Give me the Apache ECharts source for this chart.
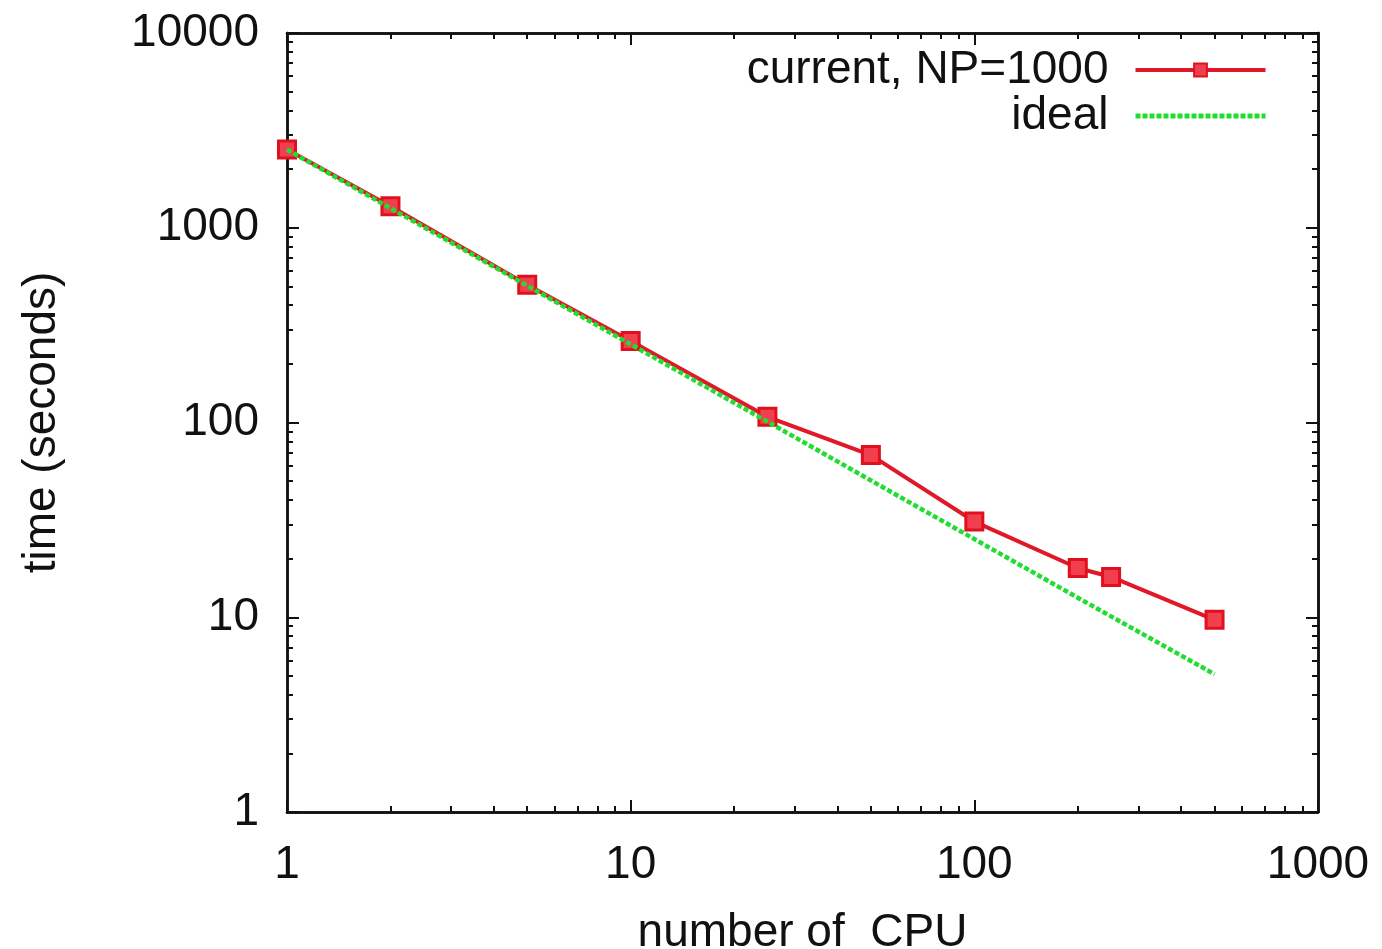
<!DOCTYPE html>
<html>
<head>
<meta charset="utf-8">
<script src="https://cdn.jsdelivr.net/npm/echarts@6/dist/echarts.min.js"></script>
<style>html,body{margin:0;padding:0;background:#fff}#c{width:1382px;height:949px}</style>
</head>
<body>
<div id="c"></div>
<script>
const cpus = [1, 2, 5, 10, 25, 50, 100, 200, 250, 500];
const timeCurrent = [2520, 1290, 510, 262, 107, 68, 31, 17.9, 16.1, 9.7];
const timeIdeal = [2520, 1260, 504, 252, 101, 50.4, 25.2, 12.6, 10.1, 5.1];
const xMajorTicks = [1, 10, 100, 1000];
const yMajorTicks = [1, 10, 100, 1000, 10000];
const xMinorTicks = [2,3,4,5,6,7,8,9,20,30,40,50,60,70,80,90,200,300,400,500,600,700,800,900];
const yMinorTicks = [2,3,4,5,6,7,8,9,20,30,40,50,60,70,80,90,200,300,400,500,600,700,800,900,2000,3000,4000,5000,6000,7000,8000,9000];

const FONT = 'Liberation Sans';
const FS = 46;
const lineColor = '#111';
const fmt = v => String(Math.round(v));

function xAx(pos, ticks, len, labels, extra) {
  return Object.assign({
    type: 'log', logBase: 10, min: 1, max: 1000, position: pos, gridIndex: 0,
    axisLine: {show: true, lineStyle: {color: lineColor, width: 2.5}},
    axisTick: {show: true, inside: true, length: len, customValues: ticks, lineStyle: {color: lineColor, width: 2}},
    axisLabel: labels ? {show: true, customValues: xMajorTicks, formatter: fmt, fontFamily: FONT, fontSize: FS, color: '#111', margin: 30} : {show: false},
    splitLine: {show: false}, minorTick: {show: false}
  }, extra || {});
}
function yAx(pos, ticks, len, labels, extra) {
  return Object.assign({
    type: 'log', logBase: 10, min: 1, max: 10000, position: pos, gridIndex: 0,
    axisLine: {show: true, lineStyle: {color: lineColor, width: 2.5}},
    axisTick: {show: true, inside: true, length: len, customValues: ticks, lineStyle: {color: lineColor, width: 2}},
    axisLabel: labels ? {show: true, customValues: yMajorTicks, formatter: fmt, fontFamily: FONT, fontSize: FS, color: '#111', margin: 28} : {show: false},
    splitLine: {show: false}, minorTick: {show: false}
  }, extra || {});
}

const chart = echarts.init(document.getElementById('c'), null, {renderer: 'canvas'});
chart.setOption({
  animation: false,
  backgroundColor: '#fff',
  grid: {left: 287, right: 64, top: 33, bottom: 137, containLabel: false, outerBoundsMode: 'none'},
  xAxis: [
    xAx('bottom', xMajorTicks, 12, true, {
      name: 'number of  CPU', nameLocation: 'middle', nameGap: 98,
      nameTextStyle: {fontFamily: FONT, fontSize: FS, color: '#111'}
    }),
    xAx('bottom', xMinorTicks, 6, false),
    xAx('top', xMajorTicks, 12, false),
    xAx('top', xMinorTicks, 6, false)
  ],
  yAxis: [
    yAx('left', yMajorTicks, 12, true, {
      name: 'time (seconds)', nameLocation: 'middle', nameGap: 222, nameRotate: 90,
      nameTextStyle: {fontFamily: FONT, fontSize: FS, color: '#111'}
    }),
    yAx('left', yMinorTicks, 6, false),
    yAx('right', yMajorTicks, 12, false),
    yAx('right', yMinorTicks, 6, false)
  ],
  legend: {
    orient: 'vertical', right: 109, top: 42, align: 'right',
    itemWidth: 130, itemHeight: 16, itemGap: 0,
    textStyle: {fontFamily: FONT, fontSize: FS, color: '#111', padding: [0, 22, 0, 0]},
    data: [
      {name: 'current, NP=1000', lineStyle: {width: 4, color: '#e01828'}},
      {name: 'ideal', itemStyle: {opacity: 0}, lineStyle: {width: 5, color: '#20dd30', type: [5, 2]}}
    ]
  },
  series: [
    {
      name: 'current, NP=1000', type: 'line', xAxisIndex: 0, yAxisIndex: 0,
      data: cpus.map((c, i) => [c, timeCurrent[i]]),
      symbol: 'rect', symbolSize: 17, showSymbol: true,
      lineStyle: {color: '#e01828', width: 4},
      itemStyle: {color: '#f04050', borderColor: '#e0101e', borderWidth: 3},
      z: 2
    },
    {
      name: 'ideal', type: 'line', xAxisIndex: 0, yAxisIndex: 0,
      data: cpus.map((c, i) => [c, timeIdeal[i]]),
      symbol: 'none', showSymbol: false,
      lineStyle: {color: '#20dd30', width: 4.5, type: [5, 2.5]},
      itemStyle: {color: '#20dd30'},
      z: 3
    }
  ]
});
</script>
</body>
</html>
